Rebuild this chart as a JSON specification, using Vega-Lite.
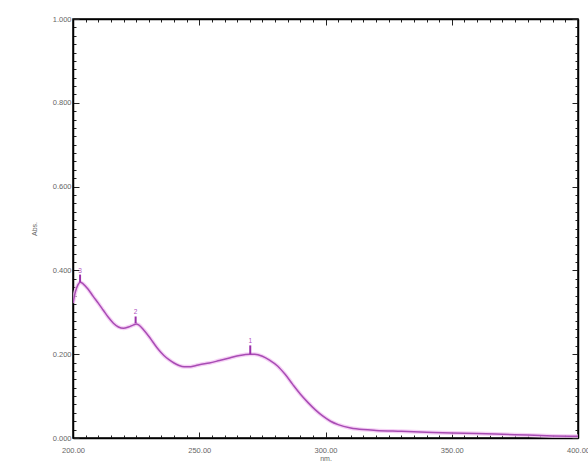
{
  "$schema": "https://vega.github.io/schema/vega-lite/v6.json",
  "width": 505,
  "height": 419,
  "autosize": "none",
  "padding": {"left": 73, "top": 19, "right": 10, "bottom": 23},
  "background": "white",
  "config": {
    "view": {"stroke": "black", "strokeWidth": 1.5},
    "axis": {"grid": false, "labelFont": "Liberation Sans", "titleFont": "Liberation Sans", "labelColor": "#666666", "titleColor": "#666666", "labelFontSize": 7.5, "titleFontSize": 7, "titleFontWeight": "normal", "domainColor": "black", "domainWidth": 1.5, "tickColor": "#222222", "tickWidth": 1}
  },
  "datasets": {
    "spec": [
      {"nm": 200, "abs": 0.322}, {"nm": 201, "abs": 0.35}, {"nm": 202, "abs": 0.366}, {"nm": 202.8, "abs": 0.372},
      {"nm": 204, "abs": 0.368}, {"nm": 206, "abs": 0.355}, {"nm": 208, "abs": 0.338}, {"nm": 210, "abs": 0.322},
      {"nm": 212, "abs": 0.305}, {"nm": 214, "abs": 0.288}, {"nm": 216, "abs": 0.274}, {"nm": 218, "abs": 0.265},
      {"nm": 220, "abs": 0.262}, {"nm": 222, "abs": 0.265}, {"nm": 224, "abs": 0.27}, {"nm": 225, "abs": 0.272},
      {"nm": 226, "abs": 0.27}, {"nm": 228, "abs": 0.258}, {"nm": 230, "abs": 0.243}, {"nm": 232, "abs": 0.226},
      {"nm": 234, "abs": 0.21}, {"nm": 236, "abs": 0.197}, {"nm": 238, "abs": 0.187}, {"nm": 240, "abs": 0.179},
      {"nm": 242, "abs": 0.173}, {"nm": 244, "abs": 0.17}, {"nm": 246, "abs": 0.17}, {"nm": 248, "abs": 0.172},
      {"nm": 250, "abs": 0.175}, {"nm": 254, "abs": 0.179}, {"nm": 258, "abs": 0.185}, {"nm": 262, "abs": 0.191},
      {"nm": 266, "abs": 0.197}, {"nm": 270, "abs": 0.2}, {"nm": 272, "abs": 0.2}, {"nm": 275, "abs": 0.195},
      {"nm": 278, "abs": 0.185}, {"nm": 281, "abs": 0.172}, {"nm": 284, "abs": 0.152}, {"nm": 287, "abs": 0.128},
      {"nm": 290, "abs": 0.105}, {"nm": 293, "abs": 0.085}, {"nm": 296, "abs": 0.067}, {"nm": 299, "abs": 0.052},
      {"nm": 302, "abs": 0.04}, {"nm": 305, "abs": 0.032}, {"nm": 310, "abs": 0.024}, {"nm": 315, "abs": 0.02},
      {"nm": 320, "abs": 0.018}, {"nm": 330, "abs": 0.016}, {"nm": 340, "abs": 0.014}, {"nm": 350, "abs": 0.012},
      {"nm": 360, "abs": 0.011}, {"nm": 370, "abs": 0.009}, {"nm": 380, "abs": 0.007}, {"nm": 390, "abs": 0.005},
      {"nm": 400, "abs": 0.004}
    ],
    "peaks": [
      {"nm": 202.8, "abs": 0.372, "top": 0.39, "label": "3"},
      {"nm": 224.8, "abs": 0.274, "top": 0.29, "label": "2"},
      {"nm": 270.2, "abs": 0.2, "top": 0.221, "label": "1"}
    ]
  },
  "resolve": {"axis": {"x": "independent", "y": "independent"}},
  "layer": [
    {
      "data": {"name": "spec"},
      "mark": {"type": "line", "stroke": "#f2c4f2", "strokeWidth": 4, "opacity": 0.8, "interpolate": "monotone", "clip": true},
      "encoding": {
        "x": {"field": "nm", "type": "quantitative", "scale": {"domain": [200, 400], "nice": false, "zero": false},
          "axis": {"orient": "bottom", "title": "nm.", "titlePadding": -2, "values": [200,205,210,215,220,225,230,235,240,245,250,255,260,265,270,275,280,285,290,295,300,305,310,315,320,325,330,335,340,345,350,355,360,365,370,375,380,385,390,395,400],
            "labelExpr": "datum.value % 50 === 0 ? format(datum.value, '.2f') : ''", "labelOverlap": false, "labelFlush": false, "labelPadding": 14,
            "tickSize": {"condition": {"test": "datum.value % 50 === 0", "value": -6}, "value": -3}}},
        "y": {"field": "abs", "type": "quantitative", "scale": {"domain": [0, 1], "nice": false},
          "axis": {"orient": "left", "title": "Abs.", "titlePadding": 15, "values": [0,0.02,0.04,0.06,0.08,0.1,0.12,0.14,0.16,0.18,0.2,0.22,0.24,0.26,0.28,0.3,0.32,0.34,0.36,0.38,0.4,0.42,0.44,0.46,0.48,0.5,0.52,0.54,0.56,0.58,0.6,0.62,0.64,0.66,0.68,0.7,0.72,0.74,0.76,0.78,0.8,0.82,0.84,0.86,0.88,0.9,0.92,0.94,0.96,0.98,1],
            "labelExpr": "abs(datum.value * 5 - round(datum.value * 5)) < 0.0001 ? format(datum.value, '.3f') : ''", "labelOverlap": false, "labelFlush": false, "labelPadding": 8,
            "tickSize": {"condition": {"test": "abs(datum.value * 5 - round(datum.value * 5)) < 0.0001", "value": -6}, "value": -3}}}
      }
    },
    {
      "data": {"name": "spec"},
      "mark": {"type": "line", "stroke": "#a84cb4", "strokeWidth": 1.5, "interpolate": "monotone", "clip": true},
      "encoding": {
        "x": {"field": "nm", "type": "quantitative", "scale": {"domain": [200, 400], "nice": false, "zero": false},
          "axis": {"orient": "top", "title": null, "labels": false, "values": [200,205,210,215,220,225,230,235,240,245,250,255,260,265,270,275,280,285,290,295,300,305,310,315,320,325,330,335,340,345,350,355,360,365,370,375,380,385,390,395,400],
            "tickSize": {"condition": {"test": "datum.value % 50 === 0", "value": -6}, "value": -3}}},
        "y": {"field": "abs", "type": "quantitative", "scale": {"domain": [0, 1], "nice": false},
          "axis": {"orient": "right", "title": null, "labels": false, "values": [0,0.02,0.04,0.06,0.08,0.1,0.12,0.14,0.16,0.18,0.2,0.22,0.24,0.26,0.28,0.3,0.32,0.34,0.36,0.38,0.4,0.42,0.44,0.46,0.48,0.5,0.52,0.54,0.56,0.58,0.6,0.62,0.64,0.66,0.68,0.7,0.72,0.74,0.76,0.78,0.8,0.82,0.84,0.86,0.88,0.9,0.92,0.94,0.96,0.98,1],
            "tickSize": {"condition": {"test": "abs(datum.value * 5 - round(datum.value * 5)) < 0.0001", "value": -6}, "value": -3}}}
      }
    },
    {
      "data": {"name": "peaks"},
      "mark": {"type": "rule", "stroke": "#9a30aa", "strokeWidth": 2},
      "encoding": {
        "x": {"field": "nm", "type": "quantitative", "axis": null},
        "y": {"field": "abs", "type": "quantitative", "axis": null},
        "y2": {"field": "top"}
      }
    },
    {
      "data": {"name": "peaks"},
      "mark": {"type": "text", "color": "#b050c0", "fontSize": 6.5, "font": "Liberation Sans", "baseline": "bottom", "dy": -1},
      "encoding": {
        "x": {"field": "nm", "type": "quantitative", "axis": null},
        "y": {"field": "top", "type": "quantitative", "axis": null},
        "text": {"field": "label"}
      }
    }
  ]
}
